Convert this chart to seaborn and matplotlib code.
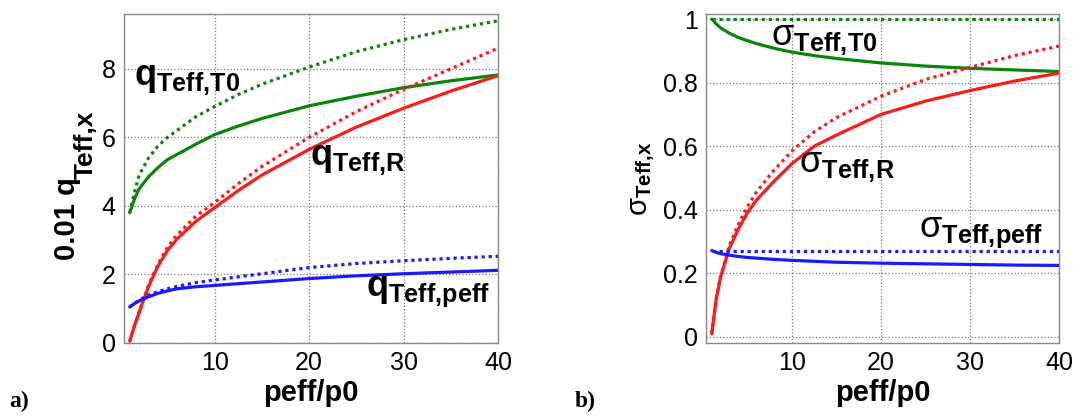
import seaborn as sns
import matplotlib.pyplot as plt
import pandas as pd
import numpy as np

# 데이터
peff = [1, 1.5, 2, 3, 4, 5, 6, 8, 10, 12.5, 15, 20, 25, 30, 35, 40]

q_T0 = [3.8, 4.2, 4.5, 4.85, 5.12, 5.35, 5.5, 5.8, 6.08, 6.33, 6.55, 6.92, 7.2, 7.45, 7.65, 7.82]
q_T0_dot = [3.8, 4.4, 4.9, 5.4, 5.75, 6.0, 6.2, 6.6, 6.9, 7.25, 7.55, 8.05, 8.5, 8.85, 9.15, 9.4]
q_R = [0.05, 0.5, 0.9, 1.65, 2.25, 2.7, 3.03, 3.55, 3.95, 4.45, 4.9, 5.65, 6.3, 6.85, 7.35, 7.8]
q_R_dot = [0.05, 0.5, 0.9, 1.7, 2.3, 2.8, 3.15, 3.7, 4.1, 4.65, 5.15, 6.0, 6.75, 7.4, 8.0, 8.6]
q_peff = [1.05, 1.15, 1.23, 1.35, 1.45, 1.52, 1.58, 1.64, 1.68, 1.73, 1.78, 1.88, 1.96, 2.02, 2.07, 2.12]
q_peff_dot = [1.05, 1.16, 1.25, 1.4, 1.5, 1.58, 1.65, 1.76, 1.84, 1.93, 2.02, 2.2, 2.32, 2.4, 2.47, 2.53]

s_T0 = [1.0, 0.985, 0.972, 0.955, 0.942, 0.932, 0.923, 0.908, 0.896, 0.885, 0.876, 0.862, 0.852, 0.845, 0.84, 0.835]
s_T0_dot = [1.0, 1.0, 1.0, 1.0, 1.0, 1.0, 1.0, 1.0, 1.0, 1.0, 1.0, 1.0, 1.0, 1.0, 1.0, 1.0]
s_R = [0.01, 0.12, 0.19, 0.28, 0.34, 0.39, 0.43, 0.49, 0.545, 0.6, 0.635, 0.7, 0.742, 0.775, 0.805, 0.83]
s_R_dot = [0.01, 0.12, 0.19, 0.29, 0.355, 0.41, 0.455, 0.525, 0.585, 0.645, 0.69, 0.757, 0.81, 0.848, 0.885, 0.915]
s_peff = [0.272, 0.266, 0.262, 0.257, 0.253, 0.25, 0.248, 0.244, 0.241, 0.238, 0.235, 0.232, 0.23, 0.228, 0.226, 0.225]
s_peff_dot = [0.27, 0.27, 0.27, 0.27, 0.27, 0.27, 0.27, 0.27, 0.27, 0.27, 0.27, 0.27, 0.27, 0.27, 0.27, 0.27]

xticks = [10, 20, 30, 40]
q_yticks = [0, 2, 4, 6, 8]
s_yticks = [0, 0.2, 0.4, 0.6, 0.8, 1]
s_yticklabels = ['0', '0.2', '0.4', '0.6', '0.8', '1']

sns.set_style('whitegrid')
plt.rcParams['font.family'] = ['Liberation Sans', 'DejaVu Sans']
plt.rcParams['text.color'] = 'black'
plt.rcParams['axes.labelcolor'] = 'black'
plt.rcParams['mathtext.fontset'] = 'custom'
plt.rcParams['mathtext.rm'] = 'Liberation Sans'
plt.rcParams['mathtext.bf'] = 'Liberation Sans:bold'
plt.rcParams['mathtext.it'] = 'Liberation Sans:italic'

GREEN = '#0a850a'
RED = '#ff1a1a'
BLUE = '#1a1aff'
DOT = (0, (1, 1.2))
LW = 2.3

fig = plt.figure(figsize=(10.74, 4.17), dpi=100)
ax1 = fig.add_axes([0.1155, 0.1775, 0.3482, 0.789])
ax2 = fig.add_axes([0.6574, 0.1775, 0.3287, 0.789])

# a) q 곡선
for y, c, ls in [(q_T0_dot, GREEN, DOT), (q_T0, GREEN, '-'),
                 (q_R_dot, RED, DOT), (q_R, RED, '-'),
                 (q_peff_dot, BLUE, DOT), (q_peff, BLUE, '-')]:
    sns.lineplot(x=peff, y=y, ax=ax1, color=c, linewidth=LW, linestyle=ls)

# b) sigma 곡선
for y, c, ls in [(s_T0_dot, GREEN, DOT), (s_T0, GREEN, '-'),
                 (s_R_dot, RED, DOT), (s_R, RED, '-'),
                 (s_peff_dot, BLUE, DOT), (s_peff, BLUE, '-')]:
    sns.lineplot(x=peff, y=y, ax=ax2, color=c, linewidth=LW, linestyle=ls)

ax1.set_xlim(0.4, 40)
ax1.set_ylim(0, 9.6)
ax1.set_yticks(q_yticks)
ax2.set_xlim(0.36, 40)
ax2.set_ylim(-0.019, 1.016)
ax2.set_yticks(s_yticks)
ax2.set_yticklabels(s_yticklabels)

for ax in (ax1, ax2):
    ax.set_xticks(xticks)
    ax.grid(True, linestyle=':', color='#777777', linewidth=0.9)
    ax.tick_params(labelsize=18, length=0, pad=6, colors='black')
    for sp in ax.spines.values():
        sp.set_color('#888888')
        sp.set_linewidth(1.0)
    ax.set_xlabel('peff/p0', fontsize=21, fontweight='bold', labelpad=3)

# 왼쪽 y축 이름: 아래첨자를 크게 두 부분으로
ax1.set_ylabel('')
fig.text(67 / 1074, 157 / 417, '0.01 q', rotation=90, fontsize=21,
         fontweight='bold', ha='center', va='bottom')
fig.text(86 / 1074, 238 / 417, 'Teff,x', rotation=90, fontsize=19,
         fontweight='bold', ha='center', va='bottom')
ax2.set_ylabel(r'$\mathrm{\sigma}_{\mathbf{Teff{,}x}}$', fontsize=21, labelpad=4)

# 곡선 이름
ax1.text(1.5, 7.7, r'$\mathbf{q_{Teff{,}T0}}$', fontsize=26, va='center', ha='left')
ax1.text(20.1, 5.35, r'$\mathbf{q_{Teff{,}R}}$', fontsize=26, va='center', ha='left')
ax1.text(26.0, 1.5, r'$\mathbf{q_{Teff{,}peff}}$', fontsize=26, va='center', ha='left')
ax2.text(7.7, 0.935, r'$\mathrm{\sigma}_{\mathbf{Teff{,}T0}}$', fontsize=26, va='center', ha='left')
ax2.text(10.8, 0.535, r'$\mathrm{\sigma}_{\mathbf{Teff{,}R}}$', fontsize=26, va='center', ha='left')
ax2.text(24.3, 0.33, r'$\mathrm{\sigma}_{\mathbf{Teff{,}peff}}$', fontsize=26, va='center', ha='left')

fig.text(0.009, 0.025, 'a)', fontsize=17, fontweight='bold', family='Liberation Serif')
fig.text(0.535, 0.025, 'b)', fontsize=17, fontweight='bold', family='Liberation Serif')

plt.savefig('out.png', dpi=100)
